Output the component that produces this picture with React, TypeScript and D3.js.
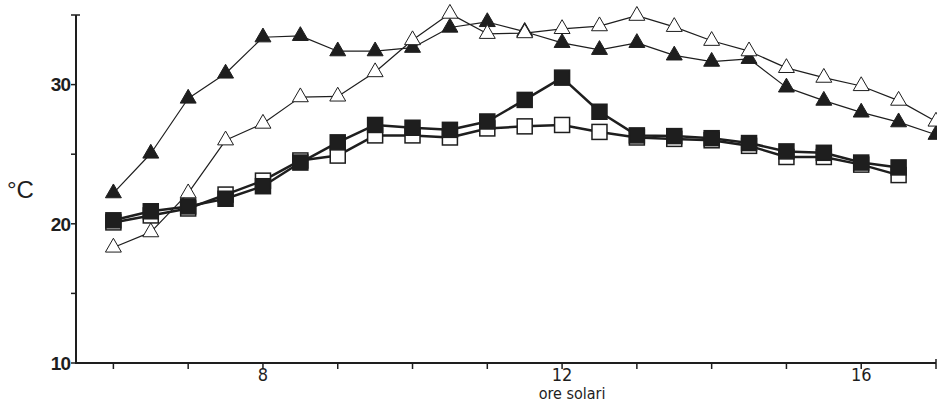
import React, { useEffect, useRef } from "react";
import * as d3 from "d3";

// ore solari (every half hour from 6 to 17)
const hours = [6, 6.5, 7, 7.5, 8, 8.5, 9, 9.5, 10, 10.5, 11, 11.5, 12, 12.5, 13, 13.5, 14, 14.5, 15, 15.5, 16, 16.5, 17];

const blackTriangles = [22.2, 25.05, 29.0, 30.8, 33.4, 33.5, 32.4, 32.4, 32.65, 34.1, 34.5, 33.8, 33.0, 32.5, 33.0, 32.1, 31.65, 31.85, 29.8, 28.85, 28.0, 27.3, 26.4];
const whiteTriangles = [18.3, 19.4, 22.2, 26.0, 27.2, 29.1, 29.15, 30.9, 33.2, 35.1, 33.65, 33.7, 34.0, 34.2, 34.95, 34.15, 33.15, 32.4, 31.2, 30.5, 29.9, 28.85, 27.35];
const blackSquares = [20.25, 20.9, 21.25, 21.8, 22.7, 24.4, 25.85, 27.1, 26.9, 26.75, 27.35, 28.9, 30.5, 28.05, 26.35, 26.3, 26.15, 25.8, 25.2, 25.1, 24.4, 24.05];
const whiteSquares = [20.1, 20.6, 21.1, 22.1, 23.1, 24.55, 24.9, 26.35, 26.35, 26.2, 26.85, 27.0, 27.1, 26.6, 26.2, 26.1, 26.0, 25.6, 24.8, 24.8, 24.25, 23.5];

const yTicks = [10, 15, 20, 25, 30, 35];
const yLabels = [10, 20, 30];
const xTicks = [6, 7, 8, 9, 10, 11, 12, 13, 14, 15, 16, 17];
const xLabels = [8, 12, 16];

const ink = "#1e1e1e";

const App = () => {
    const svgRef = useRef<SVGSVGElement>(null);

    useEffect(() => {
        const svg = d3.select(svgRef.current);
        svg.selectAll("*").remove();

        const width = 937;
        const height = 405;

        svg.attr("width", width).attr("height", height);
        svg.append("rect").attr("width", width).attr("height", height).attr("fill", "white");

        const x = d3.scaleLinear().domain([5.5, 17]).range([76, 936]);
        const y = d3.scaleLinear().domain([10, 35]).range([363, 15]);

        // axes
        const axes = svg.append("g").attr("stroke", ink).attr("stroke-width", 2);
        axes.append("line").attr("x1", x(5.5)).attr("x2", x(5.5)).attr("y1", y(35)).attr("y2", y(10));
        axes.append("line").attr("x1", x(5.5) - 1).attr("x2", x(17)).attr("y1", y(10)).attr("y2", y(10));

        yTicks.forEach((t) => {
            axes.append("line")
                .attr("x1", x(5.5) - 5)
                .attr("x2", t === 35 ? x(5.5) + 4 : x(5.5))
                .attr("y1", y(t))
                .attr("y2", y(t))
                .attr("stroke-width", 1.5);
        });
        xTicks.forEach((t) => {
            axes.append("line")
                .attr("x1", x(t))
                .attr("x2", x(t))
                .attr("y1", t === 17 ? y(10) - 4 : y(10))
                .attr("y2", y(10) + 6)
                .attr("stroke-width", 1.5);
        });

        const labels = svg.append("g").attr("fill", ink).style("font-family", "'Liberation Sans', Arial, sans-serif");
        yLabels.forEach((t) => {
            labels.append("text")
                .attr("x", x(5.5) - 6)
                .attr("y", y(t))
                .attr("dy", "0.36em")
                .attr("text-anchor", "end")
                .style("font-size", "19px")
                .style("font-weight", "bold")
                .style("letter-spacing", "-1px")
                .text(t);
        });
        xLabels.forEach((t) => {
            labels.append("text")
                .attr("x", x(t))
                .attr("y", 381)
                .attr("text-anchor", "middle")
                .style("font-family", "'DejaVu Sans Condensed', 'Liberation Sans', sans-serif")
                .style("font-size", "18px")
                .text(t);
        });
        labels.append("text")
            .attr("x", x(12) + 10)
            .attr("y", 399)
            .attr("text-anchor", "middle")
            .style("font-family", "'DejaVu Sans Condensed', 'Liberation Sans', sans-serif")
            .style("font-size", "16px")
            .text("ore solari");
        labels.append("text")
            .attr("x", 7)
            .attr("y", 198)
            .style("font-size", "24px")
            .text("°C");

        const drawSeries = (values: number[], lineWidth: number) => {
            const line = d3.line<number>()
                .x((d, i) => x(hours[i]))
                .y((d) => y(d));
            svg.append("path")
                .datum(values)
                .attr("d", line)
                .attr("fill", "none")
                .attr("stroke", ink)
                .attr("stroke-width", lineWidth)
                .attr("stroke-linejoin", "round");
        };

        const drawTriangles = (values: number[], fill: string) => {
            const tri = d3.symbol().type(d3.symbolTriangle).size(110);
            svg.append("g")
                .selectAll("path")
                .data(values)
                .enter()
                .append("path")
                .attr("d", tri)
                .attr("transform", (d, i) => `translate(${x(hours[i])},${y(d)})`)
                .attr("fill", fill)
                .attr("stroke", ink)
                .attr("stroke-width", 1);
        };

        const drawSquares = (values: number[], fill: string) => {
            const s = 15;
            svg.append("g")
                .selectAll("rect")
                .data(values)
                .enter()
                .append("rect")
                .attr("x", (d, i) => x(hours[i]) - s / 2)
                .attr("y", (d) => y(d) - s / 2)
                .attr("width", s)
                .attr("height", s)
                .attr("fill", fill)
                .attr("stroke", ink)
                .attr("stroke-width", 1.5);
        };

        drawSeries(blackTriangles, 1.2);
        drawSeries(whiteTriangles, 1.2);
        drawTriangles(blackTriangles, ink);
        drawTriangles(whiteTriangles, "white");

        drawSeries(whiteSquares, 2.5);
        drawSquares(whiteSquares, "white");
        drawSeries(blackSquares, 2.5);
        drawSquares(blackSquares, ink);
    }, []);

    return (
        <svg ref={svgRef} style={{ position: "absolute", top: 0, left: 0, display: "block" }}></svg>
    );
};

export default App;
